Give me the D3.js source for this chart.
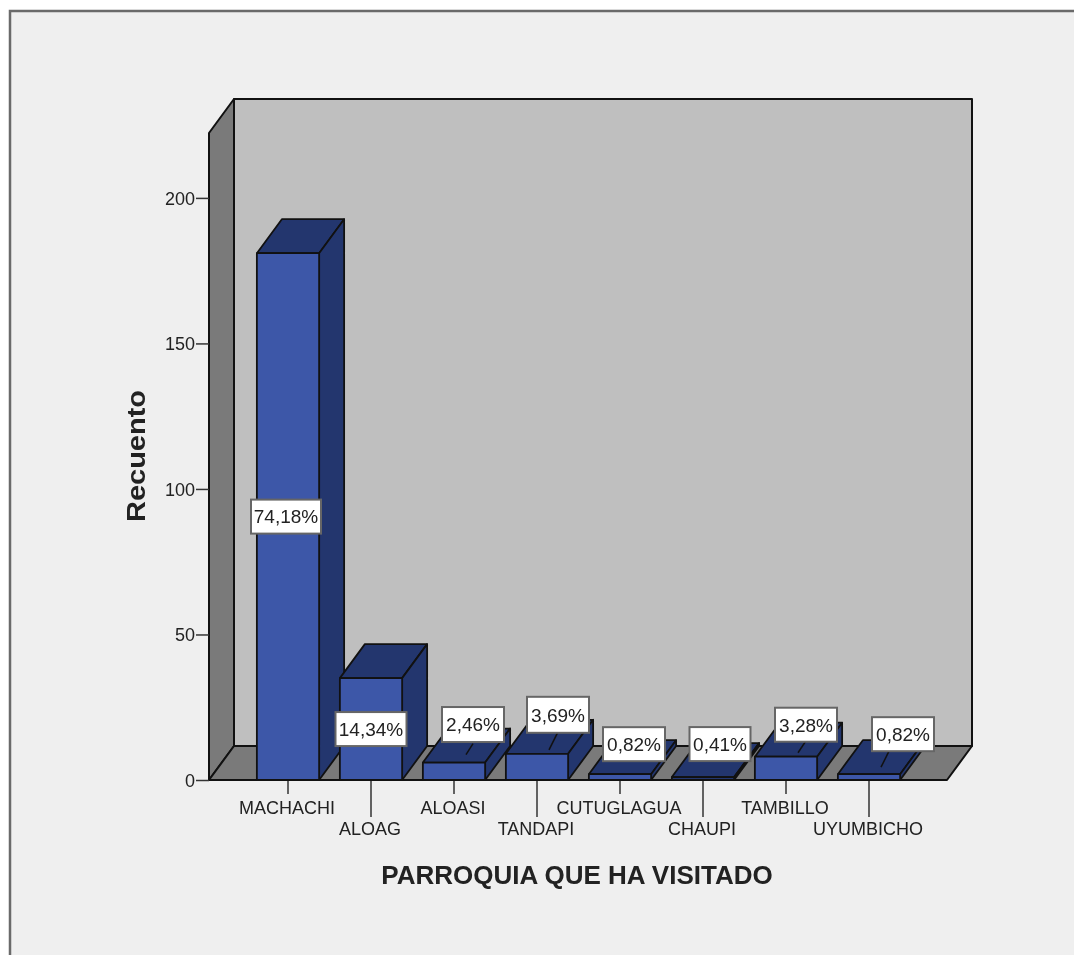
<!DOCTYPE html>
<html><head><meta charset="utf-8">
<script src="https://cdn.jsdelivr.net/npm/d3@7"></script>
<style>html,body{margin:0;padding:0;background:#fff;overflow:hidden}svg{display:block;filter:blur(0.55px)}text{font-family:"Liberation Sans",Arial,sans-serif;fill:#222}</style>
</head><body><div id="chart"></div>
<script>
const categories=["MACHACHI","ALOAG","ALOASI","TANDAPI","CUTUGLAGUA","CHAUPI","TAMBILLO","UYUMBICHO"];
const counts=[181,35,6,9,2,1,8,2];
const percentLabels=["74,18%","14,34%","2,46%","3,69%","0,82%","0,41%","3,28%","0,82%"];
const yTicks=[0,50,100,150,200];
const xTitle="PARROQUIA QUE HA VISITADO";
const yTitle="Recuento";

// layout
const W=1074,H=955,dx=25,dy=34;
const labelShift=[[-2,0],[0,0],[19,-38],[21,-39],[14,-30],[17,-33],[20,-32],[34,-40]];
const leaderShift=[null,null,[12,-8,19,-19],[12,-4,21,-22],[14,-14,14,-14],[17,-16,17,-16],[12,-4,20,-16],[12,-7,20,-23]];
const boxW=[70,71,62,62,62,61,62,62],boxH=[34,34,35,36,34,34,34,34];

const svg=d3.select("#chart").append("svg").attr("width",W).attr("height",H);
svg.append("rect").attr("x",10).attr("y",11).attr("width",W+20).attr("height",H+20).attr("fill","#efefef").attr("stroke","#6a6a6a").attr("stroke-width",2.5);

const y=d3.scaleLinear().domain([0,222.3]).range([780,133]);
const x=d3.scaleBand().domain(categories).range([246.5,910.5]).paddingInner(0.25).paddingOuter(0.125);
const poly=(g,pts,fill,sw=2)=>g.append("polygon").attr("points",pts.map(p=>p.join(",")).join(" ")).attr("fill",fill).attr("stroke","#111").attr("stroke-width",sw).attr("stroke-linejoin","round");

const xL=209,xR=947,y0=y(0),yT=y(222.3);
poly(svg,[[xL+dx,yT-dy],[xR+dx,yT-dy],[xR+dx,y0-dy],[xL+dx,y0-dy]],"#bfbfbf");
poly(svg,[[xL,yT],[xL+dx,yT-dy],[xL+dx,y0-dy],[xL,y0]],"#7a7a7a");
poly(svg,[[xL,y0],[xL+dx,y0-dy],[xR+dx,y0-dy],[xR,y0]],"#7a7a7a");

// y axis
const gy=svg.append("g").attr("transform",`translate(${xL},0)`).call(d3.axisLeft(y).tickValues(yTicks).tickSize(13).tickPadding(1).tickFormat(d3.format("d")));
gy.select(".domain").remove();
gy.selectAll("line").attr("stroke","#333").attr("stroke-width",1.5);
gy.selectAll("text").style("font-size","18px").attr("fill","#222").attr("dy","0.36em");

// x axis, staggered
const gx=svg.append("g").attr("transform",`translate(0,${y0})`).call(d3.axisBottom(x).tickSize(0));
gx.select(".domain").remove();
gx.selectAll(".tick").each(function(d,i){
  const t=d3.select(this);
  t.select("line").attr("y2",i%2?37:14).attr("stroke","#333").attr("stroke-width",1.5);
  t.select("text").attr("x",-1).attr("y",i%2?49:28).attr("dy","0.36em").attr("fill","#222").style("font-size","18px");
});

// bars
const bars=svg.append("g").selectAll("g").data(categories).join("g");
bars.each(function(c,i){
  const g=d3.select(this),l=x(c),r=l+x.bandwidth(),t=y(counts[i]),sw=1.8;
  poly(g,[[l,t],[l+dx,t-dy],[r+dx,t-dy],[r,t]],"#23366e",sw);
  poly(g,[[r,t],[r+dx,t-dy],[r+dx,y0-dy],[r,y0]],"#23366e",sw);
  poly(g,[[l,t],[r,t],[r,y0],[l,y0]],counts[i]<=1?"#23366e":"#3d57a8",sw);
});

// percent labels
const labels=svg.append("g").selectAll("g").data(categories).join("g");
labels.each(function(c,i){
  const g=d3.select(this),cx=x(c)+x.bandwidth()/2,t=y(counts[i]);
  const big=!leaderShift[i];
  const px=cx+labelShift[i][0],py=(big?(t+y0)/2:t+labelShift[i][1]);
  if(leaderShift[i]){const s=leaderShift[i];
    g.append("line").attr("x1",cx+s[0]).attr("y1",t+s[1]).attr("x2",cx+s[2]).attr("y2",t+s[3]).attr("stroke","#111").attr("stroke-width",1.5);}
  g.append("rect").attr("x",px-boxW[i]/2).attr("y",py-boxH[i]/2).attr("width",boxW[i]).attr("height",boxH[i]).attr("fill","#fff").attr("stroke","#666").attr("stroke-width",2);
  g.append("text").attr("x",px).attr("y",py).attr("dy","0.36em").attr("text-anchor","middle").style("font-size","19px").attr("fill","#111").text(percentLabels[i]);
});

// titles
svg.append("text").attr("x",577).attr("y",875).attr("dy","0.36em").attr("text-anchor","middle").style("font-size","26px").style("font-weight","700").attr("fill","#111").text(xTitle);
svg.append("text").attr("transform","translate(135.5,456) rotate(-90)").attr("dy","0.36em").attr("text-anchor","middle").attr("textLength",132).attr("lengthAdjust","spacingAndGlyphs").style("font-size","26px").style("font-weight","700").attr("fill","#111").text(yTitle);
</script></body></html>
